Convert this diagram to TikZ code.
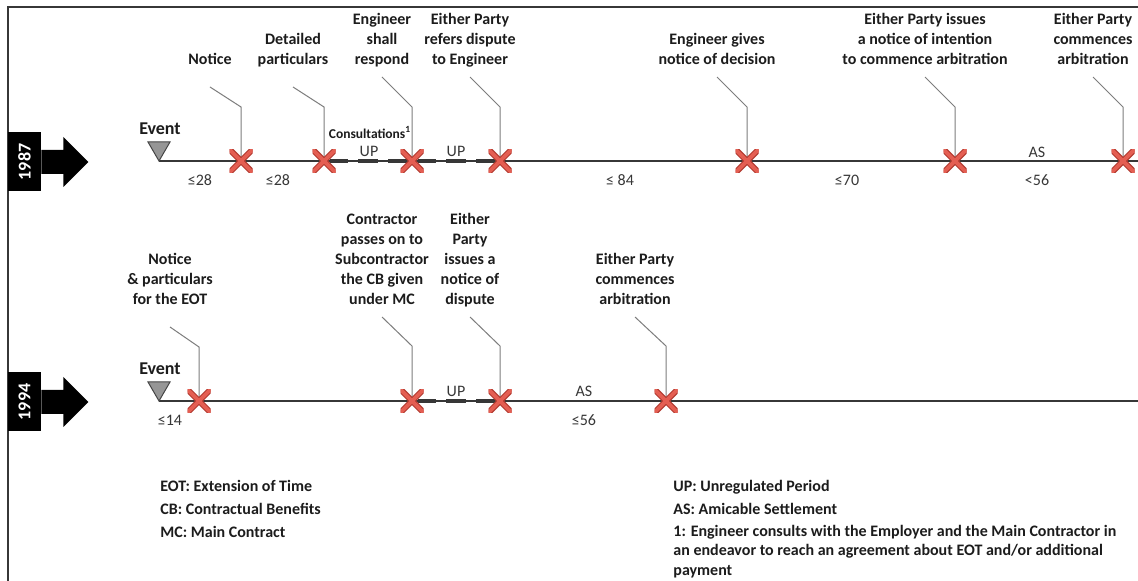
\documentclass[tikz,border=0pt]{standalone}
\usepackage{fontspec}
\setmainfont{Carlito}
\usetikzlibrary{calc}
\definecolor{ink}{RGB}{28,28,28}
\definecolor{numink}{RGB}{55,55,55}
\definecolor{crossfill}{RGB}{228,94,82}
\definecolor{crossedge}{RGB}{178,58,48}
\definecolor{leadgray}{RGB}{125,125,125}
\definecolor{linegray}{RGB}{55,55,55}
\definecolor{trifill}{RGB}{150,150,150}
\definecolor{triedge}{RGB}{70,70,70}

\begin{document}
\begin{tikzpicture}[x=0.5pt,y=-0.5pt,
  % multi-line labels are placed by the baseline of their last line
  txt/.style={font=\fontsize{8}{10}\selectfont\bfseries, text=ink, align=center, inner sep=0pt, anchor=base},
  legend/.style={font=\fontsize{8}{9.75}\selectfont\bfseries, text=ink, align=left, inner sep=0pt, anchor=base west},
  num/.style={font=\fontsize{8}{10}\selectfont, text=numink, inner sep=0pt, anchor=base},
  small/.style={font=\fontsize{6.75}{8}\selectfont\bfseries, text=ink, inner sep=0pt, anchor=base},
  eventlbl/.style={font=\fontsize{9}{11}\selectfont\bfseries, text=ink, inner sep=0pt, anchor=base},
  yearbox/.style={fill=black, text=white, font=\fontsize{9}{11}\selectfont\bfseries, minimum width=16.5pt, minimum height=29.5pt, inner sep=0pt},
  timeline/.style={draw=linegray, line width=0.65pt},
  leader/.style={draw=leadgray, line width=0.5pt},
  upbar/.style={draw=linegray, line width=1.75pt},
  frame/.style={draw=linegray, line width=1pt},
  tri/.style={fill=trifill, draw=triedge, line width=0.5pt, line join=miter},
  xmark/.style={minimum size=11.5pt, inner sep=0pt, path picture={
    \draw[crossedge, line width=3pt]
      (path picture bounding box.south west) -- (path picture bounding box.north east)
      (path picture bounding box.north west) -- (path picture bounding box.south east);
    \draw[crossfill, line width=1.9pt]
      (path picture bounding box.south west) -- (path picture bounding box.north east)
      (path picture bounding box.north west) -- (path picture bounding box.south east);
  }}
]
% canvas
\fill[white] (0,0) rectangle (1138,581);
\useasboundingbox (0,0) rectangle (1138,581);

% outer frame (top and left edges)
\draw[frame] (8,581) -- (8,7) -- (1138,7);

% ---------------- 1987 ----------------
\node[yearbox] (y1) at (24.5,162) {\rotatebox{90}{1987}};
\fill[black] ($(y1.east)+(0,-12)$) -- ++(22,0) -- ++(0,-13) -- ++(25,25)
  -- ++(-25,25) -- ++(0,-13) -- ++(-22,0) -- cycle;

\coordinate (ev1) at (159,161);
\coordinate (end1) at (1138,161);
\coordinate (a1) at (241,161);
\coordinate (a2) at (324,161);
\coordinate (a3) at (412,161);
\coordinate (a4) at (500,161);
\coordinate (a5) at (747,161);
\coordinate (a6) at (955,161);
\coordinate (a7) at (1123,161);

\draw[timeline] (ev1) -- (end1);
\foreach \s/\e in {6/24,34/54,64/88}{
  \draw[upbar] ($(a2)+(\s,0)$) -- ($(a2)+(\e,0)$);
  \draw[upbar] ($(a3)+(\s,0)$) -- ($(a3)+(\e,0)$);
}
\draw[tri] ($(ev1)+(-11,-19)$) -- ($(ev1)+(11,-19)$) -- (ev1) -- cycle;
\node[eventlbl] (e1) at (160,135) {Event};

\node[txt] (t1) at (210,65) {Notice};
\node[txt] (t2) at (293,65) {Detailed\\particulars};
\node[txt] (t3) at (382,65) {Engineer\\shall\\respond};
\node[txt] (t4) at (470,65) {Either Party\\refers dispute\\to Engineer};
\node[txt] (t5) at (717,65) {Engineer gives\\notice of decision};
\node[txt] (t6) at (925,65) {Either Party issues\\a notice of intention\\to commence arbitration};
\node[txt] (t7) at (1093,65) {Either Party\\commences\\arbitration};

\draw[leader] ($(t1.base)+(0,22)$) -- ($(a1)+(0,-54)$) -- (a1);
\draw[leader] ($(t2.base)+(0,22)$) -- ($(a2)+(0,-54)$) -- (a2);
\draw[leader] ($(t3.base)+(0,12)$) -- ($(a3)+(0,-54)$) -- (a3);
\draw[leader] ($(t4.base)+(0,12)$) -- ($(a4)+(0,-54)$) -- (a4);
\draw[leader] ($(t5.base)+(0,12)$) -- ($(a5)+(0,-54)$) -- (a5);
\draw[leader] ($(t6.base)+(0,12)$) -- ($(a6)+(0,-54)$) -- (a6);
\draw[leader] ($(t7.base)+(0,12)$) -- ($(a7)+(0,-54)$) -- (a7);

\foreach \c in {a1,a2,a3,a4,a5,a6,a7}{ \node[xmark] at (\c) {}; }

\node[small] (cons) at (370,139) {Consultations\textsuperscript{1}};
\node[num] (u1) at (369,157) {UP};
\node[num] (u2) at (456,157) {UP};
\node[num] (s1) at (1037,158) {AS};
\node[num] (d1) at (200,186) {≤28};
\node[num] (d2) at (278,186) {≤28};
\node[num] (d3) at (620,186) {≤ 84};
\node[num] (d4) at (847,186) {≤70};
\node[num] (d5) at (1037,186) {<56};

% ---------------- 1994 ----------------
\node[yearbox] (y2) at (24.5,402) {\rotatebox{90}{1994}};
\fill[black] ($(y2.east)+(0,-12)$) -- ++(22,0) -- ++(0,-13) -- ++(25,25)
  -- ++(-25,25) -- ++(0,-13) -- ++(-22,0) -- cycle;

\coordinate (ev2) at (159,401);
\coordinate (end2) at (1138,401);
\coordinate (b1) at (199,401);
\coordinate (b2) at (412,401);
\coordinate (b3) at (500,401);
\coordinate (b4) at (666,401);

\draw[timeline] (ev2) -- (end2);
\foreach \s/\e in {6/24,34/54,64/88}{
  \draw[upbar] ($(b2)+(\s,0)$) -- ($(b2)+(\e,0)$);
}
\draw[tri] ($(ev2)+(-11,-19)$) -- ($(ev2)+(11,-19)$) -- (ev2) -- cycle;
\node[eventlbl] (e2) at (160,375) {Event};

\node[txt] (r1) at (170,305) {Notice\\\& particulars\\for the EOT};
\node[txt] (r2) at (382,305) {Contractor\\passes on to\\Subcontractor\\the CB given\\under MC};
\node[txt] (r3) at (470,305) {Either\\Party\\issues a\\notice of\\dispute};
\node[txt] (r4) at (635,305) {Either Party\\commences\\arbitration};

\draw[leader] ($(r1.base)+(0,22)$) -- ($(b1)+(0,-54)$) -- (b1);
\draw[leader] ($(r2.base)+(0,12)$) -- ($(b2)+(0,-55)$) -- (b2);
\draw[leader] ($(r3.base)+(0,12)$) -- ($(b3)+(0,-55)$) -- (b3);
\draw[leader] ($(r4.base)+(0,12)$) -- ($(b4)+(0,-55)$) -- (b4);

\foreach \c in {b1,b2,b3,b4}{ \node[xmark] at (\c) {}; }

\node[num] (u3) at (456,397) {UP};
\node[num] (s2) at (584,397) {AS};
\node[num] (d6) at (170,426) {≤14};
\node[num] (d7) at (584,426) {≤56};

% ---------------- legend ----------------
\node[legend] (g1) at (160,491) {EOT: Extension of Time};
\node[legend] (g2) at (160,514) {CB: Contractual Benefits};
\node[legend] (g3) at (160,537) {MC: Main Contract};
\node[legend] (g4) at (673,491) {UP: Unregulated Period};
\node[legend] (g5) at (673,514) {AS: Amicable Settlement};
\node[legend] (g6) at (673,575) {1: Engineer consults with the Employer and the Main Contractor in\\an endeavor to reach an agreement about EOT and/or additional\\payment};
\end{tikzpicture}
\end{document}
